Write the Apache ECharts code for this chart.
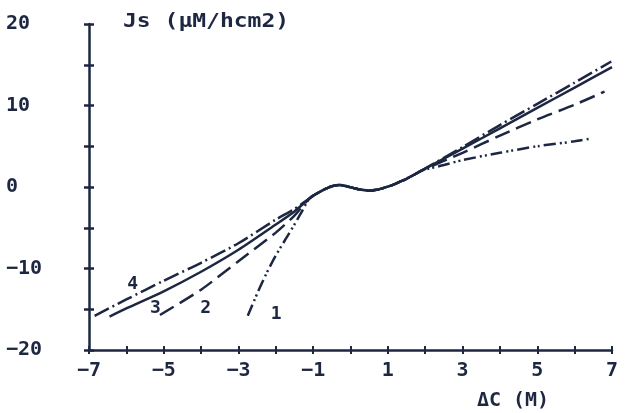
<!DOCTYPE html>
<html>
<head>
<meta charset="utf-8">
<script src="https://cdn.jsdelivr.net/npm/echarts@6/dist/echarts.min.js"></script>
<style>
  html, body { margin: 0; padding: 0; background: #fff; }
  #chart { width: 626px; height: 413px; }
</style>
</head>
<body>
<div id="chart"></div>
<script>
// middle part shared by all four curves (ΔC in M, Js)
var midX = [-1.1, -0.9, -0.7, -0.5, -0.3, -0.1, 0.1, 0.3, 0.5, 0.7, 0.9, 1.1, 1.3, 1.5, 1.7, 1.9]
var midY = [-1.4, -0.8, -0.3, 0.1, 0.25, 0.1, -0.15, -0.35, -0.45, -0.35, -0.1, 0.2, 0.6, 1.0, 1.5, 2.0]

// curve 1 (dash-dot-dot)
var c1LeftX = [-2.75, -2.5, -2.25, -2, -1.75, -1.5, -1.3]
var c1LeftY = [-15.8, -13.1, -10.6, -8.4, -6.5, -4.6, -3.0]
var c1RightX = [2.5, 3, 4, 5, 6, 6.45]
var c1RightY = [2.7, 3.3, 4.2, 5.0, 5.6, 5.95]

// curve 2 (dashed)
var c2LeftX = [-5.1, -4, -3, -2, -1.5]
var c2LeftY = [-15.7, -12.6, -9.1, -5.6, -3.5]
var c2RightX = [3, 4, 5, 6, 6.8]
var c2RightY = [4.2, 6.3, 8.3, 10.1, 11.7]

// curve 3 (solid)
var c3LeftX = [-6.45, -6, -5, -4, -3, -2, -1.5]
var c3LeftY = [-15.9, -14.9, -12.8, -10.4, -7.7, -4.6, -3.0]
var c3RightX = [3, 4, 5, 6, 7]
var c3RightY = [4.7, 7.2, 9.7, 12.2, 14.7]

// curve 4 (dash-dot)
var c4LeftX = [-6.85, -6, -5, -4, -3, -2, -1.5]
var c4LeftY = [-15.8, -13.8, -11.5, -9.3, -6.9, -4.0, -2.7]
var c4RightX = [3, 4, 5, 6, 6.98]
var c4RightY = [4.9, 7.6, 10.2, 12.8, 15.4]

// curve numbers written next to the lower ends
var curveNames = ['1', '2', '3', '4']
var nameX = [-1.99, -3.88, -5.22, -5.83]
var nameY = [-15.6, -14.9, -14.9, -11.9]

var ink = '#1d2741'
var font = 'DejaVu Sans Mono'
var textFont = 'bold 20px "DejaVu Sans Mono"'

function pairs(xs, ys) {
  return xs.map(function (x, i) { return [x, ys[i]] })
}
function curve(lx, ly, rx, ry) {
  return pairs(lx, ly).concat(pairs(midX, midY), pairs(rx, ry))
}
function minus(v) {
  return String(v).replace('-', '\u2212')
}

var myChart = echarts.init(document.getElementById('chart'))

function lineSeries(data, type) {
  return {
    type: 'line',
    data: data,
    showSymbol: false,
    symbol: 'none',
    smooth: 0.25,
    lineStyle: { color: ink, width: 2.5, type: type },
    z: 3
  }
}

var option = {
  animation: false,
  backgroundColor: '#fff',
  grid: { left: 89, right: 14, top: 24, bottom: 63 },
  xAxis: [
    {
      type: 'value',
      min: -7,
      max: 7,
      interval: 1,
      position: 'bottom',
      splitLine: { show: false },
      axisLine: { onZero: false, lineStyle: { color: ink, width: 2.5 } },
      axisTick: { length: 4, lineStyle: { color: ink, width: 2 } },
      axisLabel: {
        margin: 11,
        color: ink,
        fontFamily: font,
        fontWeight: 'bold',
        fontSize: 20,
        formatter: function (v) {
          return Math.abs(v) % 2 === 1 ? minus(v) : ''
        }
      }
    },
    {
      // second copy only for the inner half of the tick crosses
      type: 'value',
      min: -7,
      max: 7,
      interval: 1,
      position: 'bottom',
      splitLine: { show: false },
      axisLine: { show: false, onZero: false },
      axisTick: { inside: true, length: 4, lineStyle: { color: ink, width: 2 } },
      axisLabel: { show: false }
    }
  ],
  yAxis: [
    {
      type: 'value',
      min: -20,
      max: 20,
      interval: 5,
      position: 'left',
      splitLine: { show: false },
      axisLine: { onZero: false, lineStyle: { color: ink, width: 2.5 } },
      axisTick: { length: 5, lineStyle: { color: ink, width: 2.5 } },
      axisLabel: {
        margin: 83,
        align: 'left',
        padding: [6, 0, 0, 0],
        color: ink,
        fontFamily: font,
        fontWeight: 'bold',
        fontSize: 20,
        formatter: function (v) {
          return v % 10 === 0 ? minus(v) : ''
        }
      }
    },
    {
      type: 'value',
      min: -20,
      max: 20,
      interval: 5,
      position: 'left',
      splitLine: { show: false },
      axisLine: { show: false, onZero: false },
      axisTick: { inside: true, length: 5, lineStyle: { color: ink, width: 2.5 } },
      axisLabel: { show: false }
    }
  ],
  graphic: [
    {
      type: 'text',
      x: 123,
      y: 22,
      scaleX: 1.15,
      style: {
        text: 'Js (\u03bcM/hcm2)',
        fill: ink,
        font: textFont,
        verticalAlign: 'middle'
      }
    },
    {
      type: 'text',
      x: 513,
      y: 401,
      style: {
        text: '\u0394C (M)',
        fill: ink,
        font: textFont,
        align: 'center',
        verticalAlign: 'middle'
      }
    }
  ],
  series: [
    lineSeries(curve(c1LeftX, c1LeftY, c1RightX, c1RightY), [12, 4, 2, 3, 2, 4]),
    lineSeries(curve(c2LeftX, c2LeftY, c2RightX, c2RightY), [16, 7]),
    lineSeries(curve(c3LeftX, c3LeftY, c3RightX, c3RightY), 'solid'),
    lineSeries(curve(c4LeftX, c4LeftY, c4RightX, c4RightY), [16, 4, 2, 4])
  ]
}

myChart.setOption(option)

// curve numbers: placed at data coordinates through the chart's own scales
myChart.setOption({
  graphic: curveNames.map(function (n, i) {
    var p = myChart.convertToPixel({ gridIndex: 0 }, [nameX[i], nameY[i]])
    return {
      type: 'text',
      x: p[0],
      y: p[1],
      z: 10,
      style: {
        text: n,
        fill: ink,
        font: 'bold 18px "DejaVu Sans Mono"',
        align: 'center',
        verticalAlign: 'middle'
      }
    }
  }).concat(option.graphic)
}, { replaceMerge: ['graphic'] })

window.addEventListener('resize', function () {
  myChart.resize()
})
</script>
</body>
</html>
